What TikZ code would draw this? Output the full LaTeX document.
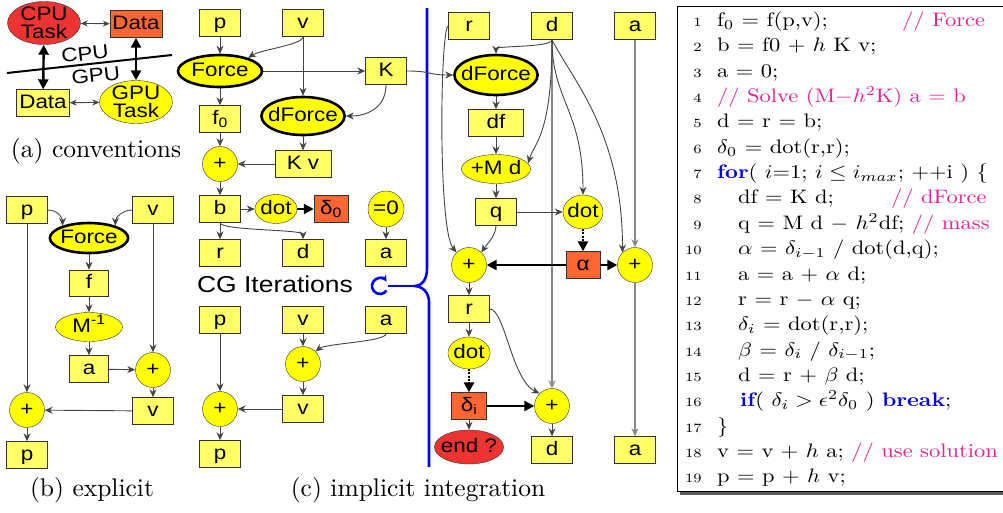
\documentclass[tikz,border=0pt]{standalone}
\usepackage{fontspec}
\usepackage{graphicx}
\usetikzlibrary{shapes.geometric,arrows.meta,positioning}

\newfontfamily\diagfont[FakeStretch=1.15]{Liberation Sans}
\newcommand{\labelfont}{\diagfont\fontsize{19.5}{22}\selectfont}
\newcommand{\taskfont}{\diagfont\fontsize{19.5}{18}\selectfont}
\newcommand{\cgfont}{\diagfont\fontsize{23}{26}\selectfont}
\newcommand{\capfont}{\fontsize{10}{12}\selectfont}
\newcommand{\codefont}{\fontsize{10}{12}\selectfont}
\newcommand{\numfont}{\fontsize{6.5}{8}\selectfont}
\newcommand{\capwide}[1]{\scalebox{2.55}{#1}}
\newcommand{\codewide}[1]{\scalebox{2.25}[1.95]{#1}}
\newcommand{\pink}[1]{{\color{codepink}#1}}
\newcommand{\kw}[1]{{\color{codeblue}\bfseries #1}}

\definecolor{boxyellow}{RGB}{255,255,102}
\definecolor{opyellow}{RGB}{255,255,0}
\definecolor{scalarorange}{RGB}{255,102,51}
\definecolor{taskred}{RGB}{238,51,51}
\definecolor{boxline}{RGB}{51,51,51}
\definecolor{linegray}{RGB}{68,68,68}
\definecolor{longgray}{RGB}{136,136,136}
\definecolor{codepink}{RGB}{235,30,140}
\definecolor{codeblue}{RGB}{0,0,240}
\definecolor{braceblue}{RGB}{0,0,255}

\tikzstyle{databox} = [rectangle, minimum width=41pt, minimum height=27pt, inner sep=1pt,
text height=14pt, text depth=4pt, text centered, draw=boxline, fill=boxyellow, font=\labelfont]
\tikzstyle{scalarbox} = [databox, fill=scalarorange]
\tikzstyle{taskellipse} = [ellipse, inner sep=0pt, text height=14pt, text depth=4pt,
draw=boxline, fill=opyellow, font=\labelfont]
\tikzstyle{forceellipse} = [taskellipse, draw=black, line width=2.6pt]
\tikzstyle{twoline} = [ellipse, align=center, inner xsep=1.5pt, inner ysep=-2pt,
minimum width=73pt, minimum height=43pt, draw=boxline, font=\taskfont]
\tikzstyle{opcircle} = [circle, minimum size=35pt, inner sep=1pt, text height=14pt,
text depth=4pt, draw=boxline, fill=opyellow, font=\labelfont]
\tikzstyle{arrow} = [draw=linegray, line width=0.9pt, -{Stealth[length=8pt,width=7pt]}]
\tikzstyle{biarrow} = [draw=linegray, line width=0.9pt, {Stealth[length=7pt,width=6pt]}-{Stealth[length=7pt,width=6pt]}]
\tikzstyle{longarrow} = [arrow, draw=longgray, line width=1.3pt]
\tikzstyle{bigarrow} = [draw=black, line width=2.4pt, -{Triangle[length=10pt,width=10pt]}]
\tikzstyle{bigbiarrow} = [draw=black, line width=2.4pt, {Triangle[length=10pt,width=10pt]}-{Triangle[length=10pt,width=10pt]}]
\tikzstyle{dotarrow} = [bigarrow, dash pattern=on 2pt off 1.2pt]
\tikzstyle{bracepath} = [draw=braceblue, line width=2.6pt]
\tikzstyle{captiontext} = [anchor=base, inner sep=0pt, font=\capfont]
\tikzstyle{codeline} = [anchor=base west, inner sep=0pt, font=\codefont]
\tikzstyle{codenum} = [anchor=base east, inner sep=0pt, font=\numfont]

\begin{document}
\begin{tikzpicture}[x=1pt, y=-1pt]
\useasboundingbox (0,0) rectangle (1003,512);

% (a) conventions
\node (cpuTask) [twoline, fill=taskred] at (44,23) {CPU\\Task};
\node (cpuData) [scalarbox, minimum width=52pt] at (136,24) {Data};
\node (gpuData) [databox, minimum width=53pt] at (43,103) {Data};
\node (gpuTask) [twoline, fill=opyellow] at (136,102) {GPU\\Task};
\coordinate (divLeft) at (7,73);
\coordinate (divRight) at (172,55);
\draw [line width=2pt] (divLeft) -- (divRight)
  node (cpuLabel) [pos=0.48, above=2pt, sloped, inner sep=1pt, font=\labelfont] {CPU}
  node (gpuLabel) [pos=0.53, below=3pt, sloped, inner sep=1pt, font=\labelfont] {GPU};
\draw [biarrow] (cpuTask) -- (cpuData);
\draw [bigbiarrow] (cpuTask) -- (gpuData);
\draw [bigbiarrow] (cpuData) -- (gpuTask);
\draw [biarrow] (gpuData) -- (gpuTask);
\node (capA) [captiontext] at (96,157) {\capwide{(a) conventions}};

% (b) explicit
\node (expP) [databox] at (27,210) {p};
\node (expV) [databox] at (153,210) {v};
\node (expForce) [forceellipse, minimum width=78pt, minimum height=30pt, inner xsep=-1pt] at (89,238) {Force};
\node (expF) [databox, minimum width=39pt, minimum height=26pt] at (89,283) {f};
\node (expMinv) [taskellipse, minimum width=67pt, minimum height=29pt] at (89,327) {M\textsuperscript{-1}};
\node (expA) [databox, minimum width=39pt] at (89,369) {a};
\node (expPlusV) [opcircle] at (153,370) {+};
\node (expV2) [databox] at (153,411) {v};
\node (expPlusP) [opcircle] at (27,410) {+};
\node (expP2) [databox] at (27,455) {p};
\draw [arrow] (expP.east) .. controls +(10,0) and +(0,-8) .. (expForce.155);
\draw [arrow] (expV.west) .. controls +(-10,0) and +(0,-8) .. (expForce.25);
\draw [arrow] (expForce) -- (expF);
\draw [arrow] (expF) -- (expMinv);
\draw [arrow] (expMinv) -- (expA);
\draw [arrow] (expA) -- (expPlusV);
\draw [arrow] (expV) -- (expPlusV);
\draw [arrow] (expPlusV) -- (expV2);
\draw [arrow] (expV2) -- (expPlusP);
\draw [arrow] (expP) -- (expPlusP);
\draw [arrow] (expPlusP) -- (expP2);
\node (capB) [captiontext] at (92,496) {\capwide{(b) explicit}};

% (c) implicit integration, set up
\node (impP) [databox] at (220,23) {p};
\node (impV) [databox] at (303,23) {v};
\node (impForce) [forceellipse, minimum width=84pt, minimum height=32pt, inner xsep=1pt] at (220,71) {Force};
\node (impK) [databox] at (386,71) {K};
\node (impdForce) [forceellipse, minimum width=83pt, minimum height=38pt, inner xsep=-5.5pt] at (303,116) {dForce};
\node (impFzero) [databox] at (220,119) {f\textsubscript{0}};
\node (impPlus) [opcircle] at (220,164) {+};
\node (impKv) [databox, minimum width=56pt] at (303,164) {K v};
\node (impB) [databox] at (220,209) {b};
\node (impDot) [taskellipse, minimum width=42pt, minimum height=29pt, inner xsep=-0.7pt] at (276,209) {dot};
\node (impDeltaZero) [scalarbox, minimum width=34pt] at (331,209) {δ\textsubscript{0}};
\node (impZero) [opcircle, minimum size=36pt] at (386,209) {=0};
\node (impR) [databox] at (220,253) {r};
\node (impD) [databox] at (303,253) {d};
\node (impA) [databox] at (386,253) {a};
\draw [arrow] (impP) -- (impForce);
\draw [arrow] (impV.south) .. controls +(0,8) and +(12,-8) .. (impForce.25);
\draw [arrow] (impForce) -- (impK);
\draw [arrow] (impV) -- (impdForce);
\draw [arrow] (impK.south) .. controls +(0,24) and +(20,0) .. (impdForce.east);
\draw [arrow] (impForce) -- (impFzero);
\draw [arrow] (impFzero) -- (impPlus);
\draw [arrow] (impdForce) -- (impKv);
\draw [arrow] (impKv) -- (impPlus);
\draw [arrow] (impPlus) -- (impB);
\draw [arrow] (impB) -- (impDot);
\draw [bigarrow] (impDot) -- (impDeltaZero);
\draw [arrow] (impB) -- (impR);
\draw [arrow] (impB.south) .. controls +(0,8) and +(0,-10) .. (impD.north);
\draw [arrow] (impZero) -- (impA);

% CG loop marker
\node (cgLabel) [font=\cgfont] at (275,284) {CG Iterations};
\coordinate (loopC) at (380,286);
\coordinate (loopEnd) at (388,286);
\coordinate (braceTop) at (427,8);
\coordinate (braceUpper) at (427,268);
\coordinate (braceTip) at (414,286);
\coordinate (braceLower) at (429,302);
\coordinate (braceBot) at (429,467);
\draw [bracepath] (braceTop) -- (braceUpper) .. controls +(0,12) and +(8,0) .. (braceTip)
  .. controls +(8,0) and +(0,-10) .. (braceLower) -- (braceBot);
\draw [bracepath] (braceTip) -- (loopEnd);
\draw [bracepath, {Stealth[length=6pt,width=7pt]}-] ([shift={(35:8pt)}]loopC) arc[start angle=35, end angle=325, radius=8pt];

% (c) update
\node (updP) [databox] at (220,320) {p};
\node (updV) [databox] at (303,320) {v};
\node (updA) [databox] at (386,320) {a};
\node (updPlusV) [opcircle] at (303,364) {+};
\node (updV2) [databox] at (303,409) {v};
\node (updPlusP) [opcircle] at (220,409) {+};
\node (updP2) [databox] at (220,454) {p};
\draw [arrow] (updP) -- (updPlusP);
\draw [arrow] (updV) -- (updPlusV);
\draw [arrow] (updA.south) .. controls +(0,8) and +(10,-8) .. (updPlusV.north east);
\draw [arrow] (updPlusV) -- (updV2);
\draw [arrow] (updV2) -- (updPlusP);
\draw [arrow] (updPlusP) -- (updP2);
\node (capC) [captiontext] at (418,496) {\capwide{(c) implicit integration}};

% CG iteration
\node (cgR) [databox] at (469,26) {r};
\node (cgD) [databox] at (552,26) {d};
\node (cgA) [databox] at (635,26) {a};
\node (cgdForce) [forceellipse, minimum width=83pt, minimum height=40pt, inner xsep=-5.5pt] at (496,75) {dForce};
\node (cgDf) [databox, minimum width=55pt] at (496,123) {df};
\node (cgMd) [taskellipse, minimum width=69pt, minimum height=29pt, inner xsep=-0.8pt] at (496,169) {+M d};
\node (cgQ) [databox] at (496,212) {q};
\node (cgDot) [taskellipse, minimum width=40pt, minimum height=34pt, inner xsep=-1.5pt] at (583,212) {dot};
\node (cgPlusL) [opcircle] at (469,265) {+};
\node (cgAlpha) [scalarbox, minimum width=34pt] at (583,265) {α};
\node (cgPlusR) [opcircle] at (635,265) {+};
\node (cgR2) [databox] at (469,309) {r};
\node (cgDot2) [taskellipse, minimum width=42pt, minimum height=32pt, inner xsep=-0.7pt] at (469,353) {dot};
\node (cgDeltaI) [scalarbox, minimum width=35pt] at (469,406) {δ\textsubscript{i}};
\node (cgPlusD) [opcircle] at (552,406) {+};
\node (cgEnd) [taskellipse, fill=taskred, minimum width=69pt, minimum height=34pt, inner xsep=-3.6pt] at (469,447) {end ?};
\node (cgD2) [databox] at (552,450) {d};
\node (cgA2) [databox] at (635,450) {a};
\draw [longarrow] (cgD) -- (cgPlusD);
\draw [longarrow] (cgA) -- (cgPlusR);
\draw [longarrow] (cgPlusR) -- (cgA2);
\draw [arrow] (impK.east) .. controls +(25,0) and +(-25,0) .. (cgdForce.west);
\draw [arrow] (cgD.south) .. controls +(0,8) and +(0,-8) .. (cgdForce.north);
\draw [arrow] (cgdForce) -- (cgDf);
\draw [arrow] (cgDf) -- (cgMd);
\draw [arrow] (cgMd) -- (cgQ);
\draw [arrow] (cgD.south) .. controls +(0,95) and +(6,-20) .. (cgMd.10);
\draw [arrow] (cgD.south) .. controls +(0,61) and +(0,-85) .. (cgDot.north);
\draw [arrow] (cgD.south) .. controls +(20,40) and +(0,-120) .. (cgPlusR.north west);
\draw [arrow] (cgQ) -- (cgDot);
\draw [arrow] (cgQ.south) .. controls +(0,10) and +(5,-8) .. (cgPlusL.north east);
\draw [arrow] (cgR.west) .. controls +(-8,0) and +(-19,-23) .. (cgPlusL.north west);
\draw [dotarrow] (cgDot) -- (cgAlpha);
\draw [bigarrow] (cgAlpha) -- (cgPlusL);
\draw [bigarrow] (cgAlpha) -- (cgPlusR);
\draw [arrow] (cgPlusL) -- (cgR2);
\draw [arrow] (cgR2) -- (cgDot2);
\draw [dotarrow] (cgDot2) -- (cgDeltaI);
\draw [arrow] (cgDeltaI) -- (cgEnd);
\draw [bigarrow] (cgDeltaI) -- (cgPlusD);
\draw [arrow] (cgR2.east) .. controls +(15,0) and +(-28,-14) .. (cgPlusD.north west);
\draw [arrow] (cgPlusD) -- (cgD2);

% pseudo code
\fill [black!65] (680,491) rectangle (1012,494.5);
\draw [line width=1pt] (677,6) rectangle (1012,491);
\foreach \n in {1,...,19}
  \node (num\n) [codenum] at (702,{26.5+(\n-1)*25.35}) {\codewide{\n}};
\node (line1) [codeline] at (717,26.5) {\codewide{f$_0$ = f(p,v);}};
\node (note1) [codeline] at (902,26.5) {\codewide{\pink{// Force}}};
\node (line2) [codeline] at (717,51.85) {\codewide{b = f0 + $h$ K v;}};
\node (line3) [codeline] at (717,77.2) {\codewide{a = 0;}};
\node (line4) [codeline] at (717,102.55) {\codewide{\pink{// Solve (M$-$$h^2$K) a = b}}};
\node (line5) [codeline] at (717,127.9) {\codewide{d = r = b;}};
\node (line6) [codeline] at (717,153.25) {\codewide{$\delta_0$ = dot(r,r);}};
\node (line7) [codeline] at (717,178.6) {\codewide{\kw{for}( $i$=1; $i \leq i_{max}$; ++i ) \{}};
\node (line8) [codeline] at (738,203.95) {\codewide{df = K d;}};
\node (note8) [codeline] at (891,203.95) {\codewide{\pink{// dForce}}};
\node (line9) [codeline] at (738,229.3) {\codewide{q = M d $-$ $h^2$df; \pink{// mass}}};
\node (line10) [codeline] at (738,254.65) {\codewide{$\alpha$ = $\delta_{i-1}$ / dot(d,q);}};
\node (line11) [codeline] at (738,280) {\codewide{a = a + $\alpha$ d;}};
\node (line12) [codeline] at (738,305.35) {\codewide{r = r $-$ $\alpha$ q;}};
\node (line13) [codeline] at (738,330.7) {\codewide{$\delta_i$ = dot(r,r);}};
\node (line14) [codeline] at (738,356.05) {\codewide{$\beta$ = $\delta_i$ / $\delta_{i-1}$;}};
\node (line15) [codeline] at (738,381.4) {\codewide{d = r + $\beta$ d;}};
\node (line16) [codeline] at (740,406.75) {\codewide{\kw{if}( $\delta_i > \epsilon^2\delta_0$ ) \kw{break};}};
\node (line17) [codeline] at (717,432.1) {\codewide{\}}};
\node (line18) [codeline] at (717,457.45) {\codewide{v = v + $h$ a; \pink{// use solution}}};
\node (line19) [codeline] at (717,482.8) {\codewide{p = p + $h$ v;}};

\end{tikzpicture}
\end{document}
